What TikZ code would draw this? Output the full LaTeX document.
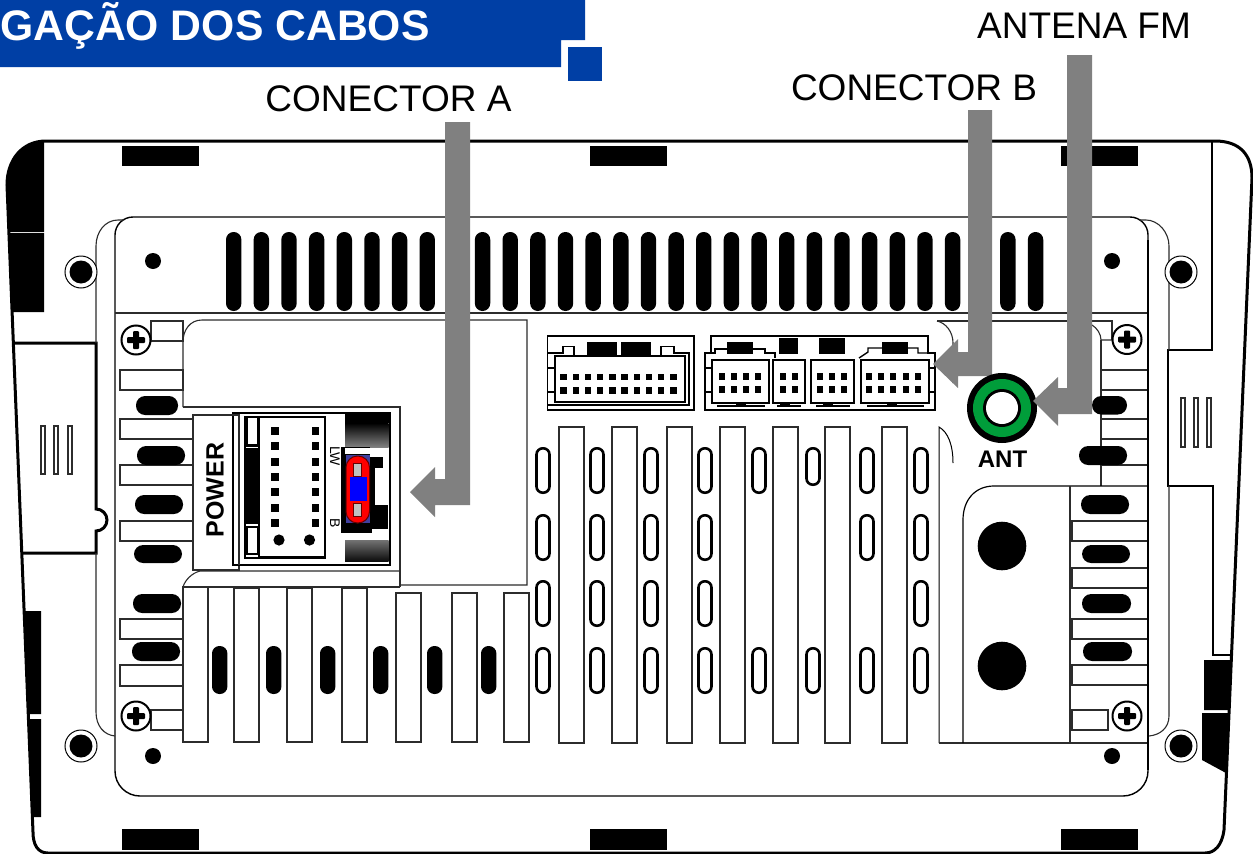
\documentclass[tikz,border=0pt]{standalone}
\usepackage{fontspec}
\setmainfont{Liberation Sans}
\definecolor{hblue}{HTML}{003FA5}
\definecolor{antgreen}{HTML}{009D3A}
\definecolor{arrowgray}{HTML}{808080}
\definecolor{edgegray}{HTML}{2C2C2C}
\tikzset{
  thin line/.style={draw=edgegray,line width=1.1pt},
  tab/.style={draw=edgegray,line width=1.1pt,fill=white},
  fin/.style={draw=edgegray,line width=1.1pt,fill=white},
  body line/.style={draw=black,line width=3pt},
  plate line/.style={draw=black,line width=1.4pt},
  ghost line/.style={draw=edgegray,line width=1.1pt},
  pin/.style={fill=black},
  shell/.style={draw=black,line width=2pt,fill=white},
  pointer/.style={fill=arrowgray},
  label text/.style={font=\fontsize{37}{37}\selectfont,anchor=base,inner sep=0pt},
}
\newcommand{\hpill}[4]{\fill[black,rounded corners=9.2pt] (#1,#2) rectangle (#3,#4);}
\newcommand{\vpill}[4]{\fill[black,rounded corners=7.4pt] (#1,#2) rectangle (#3,#4);}
\newcommand{\opill}[3]{\draw[black,line width=2.6pt,rounded corners=6.2pt,fill=white] (#1-6.5,#2+1.3) rectangle (#1+6.5,#3-1.3);}
\newcommand{\crossscrew}[2]{%
  \draw[black,line width=2pt,fill=white] (#1,#2) circle[radius=14.5pt];
  \fill[black,rounded corners=1pt] (#1-3,#2-9) rectangle (#1+3,#2+9);
  \fill[black,rounded corners=1pt] (#1-9,#2-3) rectangle (#1+9,#2+3);}
\newcommand{\bigscrew}[2]{%
  \draw[black,line width=1pt,fill=white] (#1,#2) circle[radius=16pt];
  \fill[black] (#1,#2) circle[radius=11.5pt];}
\begin{document}
\begin{tikzpicture}[x=1pt,y=-1pt]
\useasboundingbox (0,0) rectangle (1253,854);
\fill[white] (0,0) rectangle (1253,854);

% header
\fill[hblue] (0,0) rectangle (585,40) (0,40) rectangle (561,67);
\fill[hblue] (568,47) rectangle (602,81);
\node[anchor=base west,inner sep=0pt,text=white,font=\fontsize{42.7}{42.7}\selectfont\bfseries] (title) at (0,40) {GAÇÃO DOS CABOS};

% labels
\node[label text] (la) at (388.5,111) {CONECTOR A};
\node[label text] (lb) at (914,100) {CONECTOR B};
\node[label text] (lc) at (1084,38.5) {ANTENA FM};

% black side blocks
\fill[black] (46,141) .. controls (22,141) and (7,160) .. (7,185) -- (9,232) -- (44,232) -- (44,141) -- cycle;
\fill[black] (9.5,233) -- (13,312) -- (44,312) -- (44,233) -- cycle;
\fill[black] (24,611) -- (41,611) -- (41,714) -- (28,714) -- cycle;
\fill[black] (29,719) -- (41,719) -- (41,817) -- (33,817) -- cycle;
\fill[black] (1204,660) -- (1231,660) -- (1229,710) -- (1204,710) -- cycle;
\fill[black] (1202,713) -- (1228.5,713) -- (1226,773) -- (1202,760) -- cycle;

% outline
\draw[body line] (46,141) -- (1215,141) .. controls (1240,141) and (1252,155) .. (1252,178) -- (1224,830) .. controls (1222,845) and (1215,853) .. (1205,853) -- (48,853) .. controls (38,853) and (33,845) .. (33,832) -- (7,185) .. controls (7,160) and (22,141) .. (46,141) -- cycle;

% bays
\draw[body line,line width=2.6pt] (1212,141) -- (1212,350) -- (1168,350) -- (1168,486) -- (1213,486) -- (1213,655) -- (1231,655);
\draw[body line,line width=3pt] (14,343) -- (96,343) -- (96,509) arc[start angle=90,end angle=-90,radius=11pt] -- (96,553) -- (23,553);
\foreach \x in {41,54,68}{\draw[thin line] (\x,426) rectangle (\x+4,474);}
\foreach \x in {1181,1194,1207}{\draw[thin line] (\x,398) rectangle (\x+4,447);}

% black bars
\foreach \x in {122,590,1061}{
  \fill[black] (\x,146) rectangle (\x+77,166);
  \fill[black] (\x,829) rectangle (\x+77,850);}

% plate
\draw[plate line,fill=white] (115,500) [rounded corners=18pt] -- (115,217) -- (1148,217) -- (1148,500) [rounded corners=25pt] -- (1148,796) -- (115,796) -- cycle;
\draw[ghost line] (124,220) -- (118,220) .. controls (105,220) and (96,232) .. (96,246) -- (96,343);
\draw[ghost line] (96,553) -- (96,712) .. controls (96,726) and (104,735) .. (115,736);
\draw[ghost line] (1139,220) -- (1146,220) .. controls (1158,220) and (1169,232) .. (1169,246) -- (1169,350);
\draw[ghost line] (1169,486) -- (1169,716) .. controls (1169,728) and (1160,735) .. (1149,736);
\draw[thin line] (115,313) -- (1148,313);
\foreach \i in {0,...,29}{
  \pgfmathsetmacro\xa{226+27.65*\i}
  \pgfmathsetmacro\xb{\xa+15.4}
  \fill[black,rounded corners=7.6pt] (\xa,232) rectangle (\xb,311);}

% dots and screws
\foreach \x/\y in {153/261,1112/261,153/756,1112/756}{\fill[black] (\x,\y) circle[radius=8pt];}
\bigscrew{81}{272}\bigscrew{1181}{272}\bigscrew{81}{746}\bigscrew{1181}{746}

% left tabs
\foreach \xa/\ya/\xb/\yb in {151/321/183/341,120/370/183/390,120/419/193/439,120/465/193/485,120/521/193/541,120/619/183/639,120/665/183/686,151/710/183/730}{
  \draw[tab] (\xa,\ya) rectangle (\xb,\yb);}
% left pills
\hpill{136}{396}{178}{415}
\hpill{137}{446}{185}{465}
\hpill{135}{495}{183}{514}
\hpill{134}{545}{182}{563}
\hpill{133}{594}{181}{613}
\hpill{132}{642}{180}{661}

% central-left panel
\draw[thin line] (183,407) -- (183,342) .. controls (183,330) and (190,320) .. (202,320) -- (527,320) -- (527,585) -- (400,585);
\draw[thin line] (183,407) -- (400,407) -- (400,587);
\draw[thin line] (183,587) .. controls (185,580) and (192,573) .. (200,571) -- (400,571);
\draw[thin line] (183,587) -- (400,587);

% power connector
\draw[tab] (193,415) rectangle (239,570);
\node[rotate=90,inner sep=0pt,font=\fontsize{25}{25}\selectfont\bfseries] (power) at (215,490) {POWER};
\draw[black,line width=2.6pt,fill=white] (233,413) rectangle (390,565);
\draw[thin line] (193,415) -- (239,415) -- (239,565);
\fill[black] (244,415.5) rectangle (326,558.5);
\fill[white] (260,418) rectangle (324,556);
\fill[white] (248,418) rectangle (257,444);
\fill[white] (248,528) rectangle (257,553);
\fill[white] (246,446.5) rectangle (258,448);
\fill[white] (246,524) rectangle (258,525.5);
\fill[white] (246,555) rectangle (258,556.5);
\foreach \y in {431,446,462,477,492,508,523}{
  \fill[black] (271,\y-3.7) rectangle (278.5,\y+3.7);
  \fill[black] (311.5,\y-3.7) rectangle (319,\y+3.7);}
\fill[black] (279,540) circle[radius=5.6pt];
\fill[black] (309.5,540) circle[radius=5.6pt];
\node[rotate=-90,inner sep=0pt,font=\fontsize{14}{14}\selectfont] (lw) at (335,456) {LW};
\node[rotate=-90,inner sep=0pt,font=\fontsize{14}{14}\selectfont] (bpin) at (335,523.5) {B};

% gradient drums
\fill[black] (345,414) rectangle (388.5,423);
\shade[top color=black,bottom color=black!50] (345,423) rectangle (388.5,447);
\shade[top color=black!55,bottom color=black!95] (345,540) rectangle (388.5,561);
% black blocks
\fill[black] (341,447) rectangle (370,533);
\fill[white] (345,448) rectangle (388,453.5);
\fill[black] (370,457) rectangle (383,468);
\fill[black] (370,457) rectangle (375,505);
\fill[black] (370,505) rectangle (388,533);
\fill[white] (375,470) rectangle (388,504);
\fill[white] (372,529) rectangle (388,533);
\fill[white] (347,534) rectangle (388,539);
% fuse
\fill[blue!50!black!75!white] (346,455) rectangle (370,523);
\draw[draw=black!60!red,line width=1pt,fill=red,rounded corners=11.5pt] (346,456) rectangle (369.5,523);
\fill[blue] (349.5,477) rectangle (367,501);
\draw[draw=black!60!red,line width=1pt,fill=black!25] (353,463) rectangle (361,476);
\draw[draw=black!60!red,line width=1pt,fill=black!25] (353,503) rectangle (361,516);

% fins, left group
\draw[thin line,fill=white] (183,587) -- (183,742) -- (208,742) -- (208,587) -- cycle;
\foreach \xa in {234,287,342}{\draw[fin] (\xa,588) rectangle (\xa+25,742);}
\foreach \xa in {396,452,504}{\draw[fin] (\xa,593) rectangle (\xa+25,742);}
\foreach \xa in {212,266,320,373,427,481}{\vpill{\xa}{646}{\xa+15.4}{694}}

% fins, right group
\foreach \xa in {559,612,667,720,773,825,882}{\draw[fin] (\xa,427) rectangle (\xa+25,743);}
\foreach \x in {543,597,651,705,759,867,921}{\opill{\x}{447}{494}\opill{\x}{647}{694}}
\opill{813}{447}{486}\opill{813}{647}{694}
\foreach \x in {543,597,651,705,867,921}{\opill{\x}{514}{561}}
\foreach \x in {543,597,651,705,921}{\opill{\x}{580}{627}}

% right-hand region
\draw[draw=black,line width=1pt] (939,743) -- (939,427) .. controls (948,432) and (953,445) .. (953,463);
\draw[thin line] (937,321) .. controls (946,323) and (953,332) .. (953,343) -- (953,383);
\draw[thin line] (937,321) -- (1112,321) -- (1112,340);
\draw[thin line] (1092,325) .. controls (1097,328) and (1101,334) .. (1101,340) -- (1112,340);
\draw[thin line] (939,743) -- (1148,743);
\draw[thin line] (1101,340) -- (1101,486);
\draw[plate line,line width=1.2pt] (963,743) -- (963,520) .. controls (963,500) and (975,486) .. (994,486) -- (1148,486);
\draw[thin line] (1070,486) -- (1070,743);
\foreach \xa/\ya/\xb/\yb in {1101/370/1148/390,1101/419/1148/439,1072/521/1148/541,1072/568/1148/588,1072/619/1148/639,1072/665/1148/685,1072/710/1108/730}{
  \draw[tab] (\xa,\ya) rectangle (\xb,\yb);}
\draw[thin line] (1101,465) -- (1148,465);
\hpill{1092}{396}{1127}{414.5}
\hpill{1079}{446}{1127}{465}
\hpill{1081}{495}{1129}{514}
\hpill{1082}{545}{1130}{563}
\hpill{1082}{594}{1131}{613}
\hpill{1083}{642}{1132}{661}
\draw[plate line] (1148,240) -- (1148,770);
\crossscrew{136}{340}\crossscrew{1127}{339.5}\crossscrew{136}{716}\crossscrew{1127}{716}
\fill[black] (1002,546) circle[radius=24.3pt];
\fill[black] (1002,666) circle[radius=24.3pt];

% connector A
\draw[black,line width=1.8pt,fill=white] (547.5,336) rectangle (694,410);
\fill[black] (587,342) rectangle (617,355);
\fill[black] (621,342) rectangle (651,355);
\draw[black,line width=1.4pt] (547.5,353) -- (563,353) -- (563,346.5) -- (574,346.5) -- (574,355);
\draw[black,line width=1.4pt] (661,355) -- (661,346.5) -- (674,346.5) -- (674,353) -- (689,353) -- (689,405) -- (547.5,405);
\draw[black,line width=1.4pt] (547.5,368) -- (554,368) (547.5,392) -- (554,392);
\draw[shell] (555,356) rectangle (685,402);
\foreach \i in {0,...,9}{
  \pgfmathsetmacro\xc{563.5+12.2*\i}
  \fill[black] (\xc-3.2,373.5) rectangle (\xc+3.2,380);
  \fill[black] (\xc-3.2,387) rectangle (\xc+3.2,393.5);}

% connector B group
\draw[black,line width=1.8pt,fill=white] (705,353) -- (711,353) -- (711,336) -- (928,336) -- (928,353) -- (935,353) -- (935,410) -- (705,410) -- cycle;
\fill[black] (727,342) rectangle (753,354);
\fill[black] (779,338) rectangle (798,354);
\fill[black] (819,338) rectangle (845,354);
\fill[black] (882,342) rectangle (908,354);
\draw[black,line width=1.4pt] (705,353) -- (715,353) -- (715,349) -- (765,349) -- (765,353) -- (775,353) -- (775,358);
\draw[black,line width=1.4pt] (859,358) -- (868,352) -- (868,348) -- (918,348) -- (918,353) -- (928,353);
\draw[black,line width=1.2pt] (705,368) -- (712,368) (705,392) -- (712,392) (929,368) -- (935,368) (929,392) -- (935,392);
\draw[shell] (712,360) rectangle (769,403);
\draw[shell] (773,360) rectangle (805,403);
\draw[shell] (811,360) rectangle (854,403);
\draw[shell] (861,360) rectangle (929,403);
\foreach \xa/\xb in {717/765,777/801,816/850,867/924}{\draw[black,line width=1.2pt] (\xa,406) -- (\xb,406);}
\foreach \xa in {741,785,828,892}{\fill[black] (\xa-5,403) rectangle (\xa+5,406);}
\foreach \xc in {722,734,746,758,783,795,820,832,844,869,881,893,906,918}{
  \fill[black] (\xc-3.2,373) rectangle (\xc+3.2,379.5);
  \fill[black] (\xc-3.2,386) rectangle (\xc+3.2,392.5);}

% pointers and antenna socket
\fill[pointer] (445,122) -- (470,122) -- (470,505) -- (435,505) -- (435,517) -- (410,492) -- (435,467) -- (435,479) -- (445,479) -- cycle;
\fill[pointer] (968,110) -- (992,110) -- (992,376) -- (958,376) -- (958,388) -- (933,364) -- (958,339) -- (958,352) -- (968,352) -- cycle;
\fill[black] (1002,408) circle[radius=35pt];
\fill[antgreen] (1002,408) circle[radius=29pt];
\fill[black] (1002,408) circle[radius=19pt];
\fill[white] (1002,408) circle[radius=16pt];
\fill[pointer] (1067,55) -- (1092,55) -- (1092,414) -- (1058,414) -- (1058,426) -- (1033,401) -- (1058,377) -- (1058,388) -- (1067,388) -- cycle;
\node[inner sep=0pt,font=\fontsize{24}{24}\selectfont\bfseries] (ant) at (1002.5,459) {ANT};
\end{tikzpicture}
\end{document}
